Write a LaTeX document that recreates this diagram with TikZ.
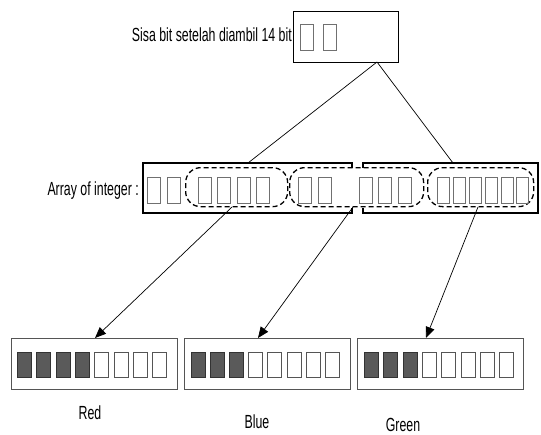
\documentclass[tikz,border=0pt]{standalone}
\usepackage{fontspec}
\newfontfamily\narrowsans[FakeStretch=0.65]{Liberation Sans}
\usetikzlibrary{arrows.meta}
\definecolor{sqgray}{HTML}{707070}
\definecolor{darkfill}{HTML}{5A5A5A}
\definecolor{boxgray}{HTML}{555555}
\tikzset{
  lbl/.style={font=\narrowsans\fontsize{19}{21}\selectfont, inner sep=0pt},
  mainbox/.style={draw=black, line width=1.3pt, anchor=north west, inner sep=0pt},
  colbox/.style={draw=boxgray, line width=0.9pt, anchor=north west, inner sep=0pt, minimum width=166pt, minimum height=51pt},
  bitsq/.style={draw=sqgray, line width=1pt, anchor=north west, inner sep=0pt, minimum width=13pt, minimum height=26pt},
  narrowsq/.style={bitsq, minimum width=12pt},
  onbit/.style={draw=black!80, fill=darkfill, line width=0.8pt, anchor=north west, inner sep=0pt, minimum width=14pt, minimum height=25pt},
  offbit/.style={draw=boxgray, fill=white, line width=0.8pt, anchor=north west, inner sep=0pt, minimum width=14pt, minimum height=25pt},
  group/.style={draw=black, line width=1.3pt, dash pattern=on 5pt off 3pt, rounded corners=15pt},
  edge/.style={line width=0.7pt, draw=black},
  arrowedge/.style={edge, -{Triangle[length=11pt,width=9pt]}},
  outline/.style={draw=black, line width=1.3pt}
}
\begin{document}
\begin{tikzpicture}[x=1pt,y=-1pt]
\useasboundingbox (0,0) rectangle (541,434);

% top box
\node[mainbox, minimum width=105pt, minimum height=51pt] (top) at (293,11) {};
\node[bitsq] (t1) at (300,24) {};
\node[bitsq] (t2) at (323,24) {};
\node[lbl, anchor=base east] (toplbl) at (292,41) {Sisa bit setelah diambil 14 bit};

% array of integer (broken box)
\coordinate (arrL) at (143,163);
\draw[outline] (352,168) -- (352,163) -- (arrL) -- (143,213) -- (352,213) -- (352,208);
\draw[outline] (363,168) -- (363,163) -- (538,163) -- (538,213) -- (363,213) -- (363,208);
\node[lbl, anchor=base east] (arrlbl) at (139,195) {Array of integer :};

\node[bitsq] (a1) at (147,177) {};
\node[bitsq] (a2) at (167,177) {};
% group 1
\node[group, anchor=north west, minimum width=102pt, minimum height=39pt, inner sep=0pt] (g1) at (185,167) {};
\foreach \x/\n in {198/b1,217/b2,237/b3,256/b4} \node[bitsq] (\n) at (\x,177) {};
% group 2
\node[group, anchor=north west, minimum width=134pt, minimum height=39pt, inner sep=0pt] (g2) at (289,167) {};
\foreach \x/\n in {298/c1,318/c2,359/c3,378/c4,398/c5} \node[bitsq] (\n) at (\x,177) {};
% group 3
\node[group, anchor=north west, minimum width=106pt, minimum height=39pt, inner sep=0pt] (g3) at (427,167) {};
\foreach \x/\n in {437/d1,453/d2,469/d3,485/d4,501/d5,516/d6} \node[narrowsq] (\n) at (\x,177) {};

% connector points
\coordinate (apex) at (377,62);
\coordinate (arrTopL) at (248,163);
\coordinate (arrTopR) at (453,163);
\coordinate (s1) at (232,207);
\coordinate (s2) at (353,207);
\coordinate (s3) at (478,207);

% bottom boxes
\node[colbox] (red) at (11,338) {};
\node[colbox] (blue) at (184,338) {};
\node[colbox] (green) at (357,338) {};

\foreach \i in {0,...,7} {
  \pgfmathsetmacro{\xa}{17+19.3*\i}
  \pgfmathsetmacro{\xb}{191+19.1*\i}
  \pgfmathsetmacro{\xc}{364+19.3*\i}
  \ifnum\i<4 \node[onbit] (r\i) at (\xa,352) {}; \else \node[offbit] (r\i) at (\xa,352) {}; \fi
  \ifnum\i<3 \node[onbit] (u\i) at (\xb,352) {}; \else \node[offbit] (u\i) at (\xb,352) {}; \fi
  \ifnum\i<3 \node[onbit] (v\i) at (\xc,352) {}; \else \node[offbit] (v\i) at (\xc,352) {}; \fi
}

\coordinate (e1) at (95,338);
\coordinate (e2) at (258,338);
\coordinate (e3) at (426,338);

\draw[edge] (apex) -- (arrTopL);
\draw[edge] (apex) -- (arrTopR);
\draw[arrowedge] (s1) -- (e1);
\draw[arrowedge] (s2) -- (e2);
\draw[arrowedge] (s3) -- (e3);

\node[lbl, anchor=base] (redlbl) at (90,419) {Red};
\node[lbl, anchor=base] (bluelbl) at (257,428) {Blue};
\node[lbl, anchor=base] (greenlbl) at (403,431) {Green};
\end{tikzpicture}
\end{document}
